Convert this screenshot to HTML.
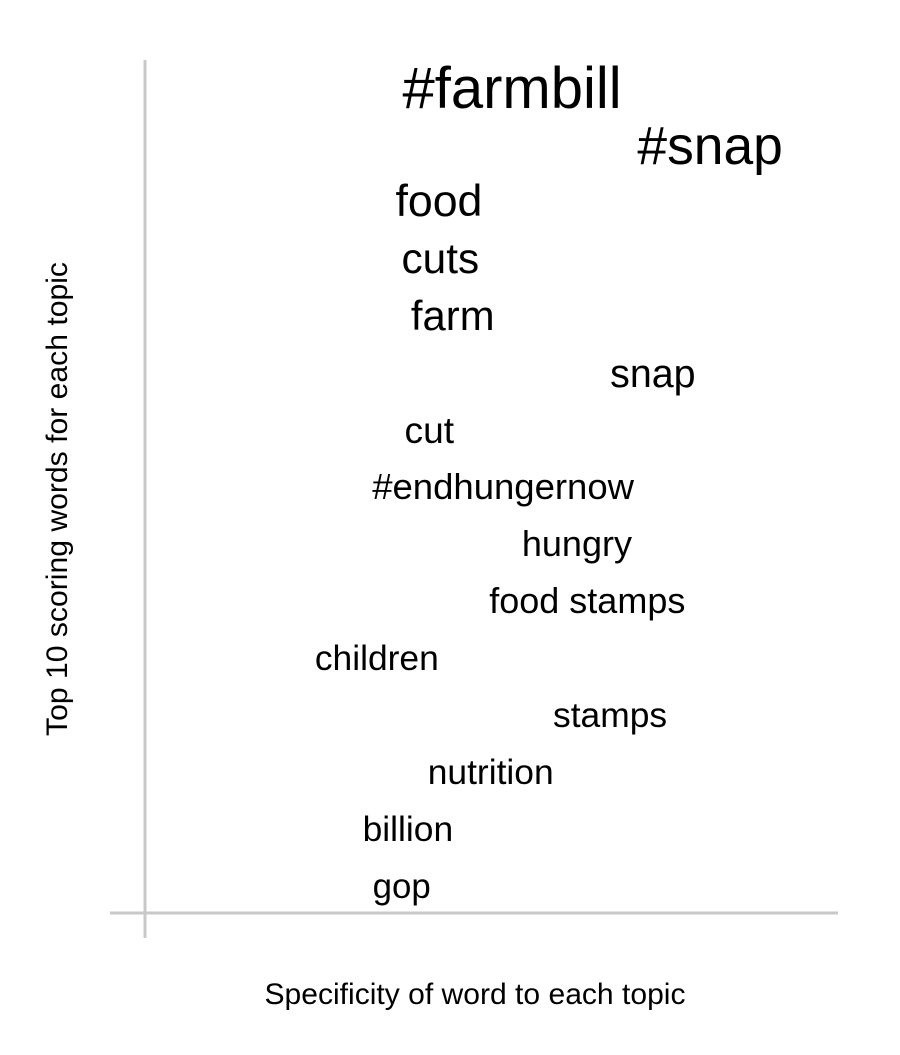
<!DOCTYPE html>
<html><head><meta charset="utf-8"><style>
body{margin:0;background:#fff}
text{font-family:"Liberation Sans",Arial,sans-serif;fill:#000}
</style></head><body>
<svg id="chart" width="900" height="1050" viewBox="0 0 900 1050" xmlns="http://www.w3.org/2000/svg">
<line x1="145" y1="60" x2="145" y2="938" stroke="#c8c8c8" stroke-width="3"/>
<line x1="110" y1="913" x2="838" y2="913" stroke="#c8c8c8" stroke-width="3"/>
<text x="475" y="1004" font-size="30" textLength="421" lengthAdjust="spacingAndGlyphs" text-anchor="middle">Specificity of word to each topic</text>
<text x="0" y="0" font-size="30" textLength="474" lengthAdjust="spacingAndGlyphs" text-anchor="middle" transform="translate(67,499) rotate(-90)">Top 10 scoring words for each topic</text>
<g id="words"></g>
</svg>
<script>
const words = ["#farmbill","#snap","food","cuts","farm","snap","cut","#endhungernow","hungry","food stamps","children","stamps","nutrition","billion","gop"];
const specificity = [0.532,0.819,0.426,0.428,0.446,0.736,0.412,0.519,0.626,0.641,0.336,0.674,0.501,0.381,0.372];
const scores = [1.0,0.92,0.77,0.73,0.72,0.68,0.64,0.63,0.62,0.62,0.61,0.61,0.61,0.61,0.60];
const baselines = [108,164,216,273,330,387,443,499,556,613,670,727,784,841,898];
const xScale = v => 145 + v * 690;
const sizeScale = s => 58 * s;
const g = document.getElementById('words');
words.forEach((w, i) => {
  const t = document.createElementNS('http://www.w3.org/2000/svg', 'text');
  
  
  t.setAttribute('x', xScale(specificity[i]));
  t.setAttribute('y', baselines[i]);
  t.setAttribute('font-size', sizeScale(scores[i]).toFixed(1));
  t.setAttribute('text-anchor', 'middle');
  t.textContent = w;
  g.appendChild(t);
});
</script>
</body></html>
